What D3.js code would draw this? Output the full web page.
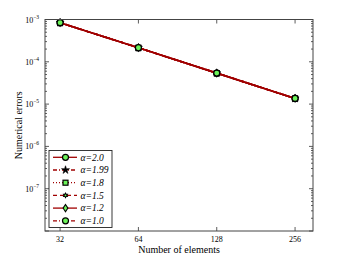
<!DOCTYPE html>
<html>
<head>
<meta charset="utf-8">
<script src="https://cdn.jsdelivr.net/npm/d3@7"></script>
<style>
  body { margin: 0; background: #fff; }
  svg { display: block; }
</style>
</head>
<body>
<svg width="346" height="261"></svg>
<script>
// data
const elements = [32, 64, 128, 256];
const alphas = ['2.0', '1.99', '1.8', '1.5', '1.2', '1.0'];
const err20 = [8.4e-4, 2.15e-4, 5.4e-5, 1.36e-5];
const err199 = [8.4e-4, 2.15e-4, 5.4e-5, 1.36e-5];
const err18 = [8.4e-4, 2.15e-4, 5.4e-5, 1.36e-5];
const err15 = [8.4e-4, 2.15e-4, 5.4e-5, 1.36e-5];
const err12 = [8.4e-4, 2.15e-4, 5.4e-5, 1.36e-5];
const err10 = [8.4e-4, 2.15e-4, 5.4e-5, 1.36e-5];
const yTickExps = [-3, -4, -5, -6, -7];

const seriesErrors = [err20, err199, err18, err15, err12, err10];
// line dash + marker per series
const styles = [
  { dash: null, marker: 'circle' },
  { dash: '4,2,1,2', marker: 'star' },
  { dash: '1,2', marker: 'square' },
  { dash: '4,3', marker: 'hexstar' },
  { dash: null, marker: 'diamond' },
  { dash: '4,2,1,2', marker: 'circle' }
];

const lineColor = '#a00000';
const markFill = '#6cf35a';
const serif = '"Liberation Serif"';

const svg = d3.select('svg');
const margin = { left: 45, right: 33, top: 19.5, bottom: 30 };
const W = 346, H = 261;
const x = d3.scaleLog().base(2).domain([28, 300]).range([margin.left, W - margin.right]);
const y = d3.scaleLog().domain([1e-8, 1e-3]).range([H - margin.bottom, margin.top]);

const x0 = margin.left, x1 = W - margin.right, y0 = H - margin.bottom, y1 = margin.top;

//ticks
const tickG = svg.append('g').attr('stroke', '#333').attr('stroke-width', 0.8);
elements.forEach(v => {
  tickG.append('line').attr('x1', x(v)).attr('x2', x(v)).attr('y1', y0).attr('y2', y0 - 4);
  tickG.append('line').attr('x1', x(v)).attr('x2', x(v)).attr('y1', y1).attr('y2', y1 + 4);
});
for (let e = -8; e <= -3; e++) {
  tickG.append('line').attr('x1', x0).attr('x2', x0 + 4).attr('y1', y(10 ** e)).attr('y2', y(10 ** e));
  tickG.append('line').attr('x1', x1).attr('x2', x1 - 4).attr('y1', y(10 ** e)).attr('y2', y(10 ** e));
  if (e < -3) {
    for (let m = 2; m <= 9; m++) {
      const yy = y(m * 10 ** e);
      tickG.append('line').attr('x1', x0).attr('x2', x0 + 2).attr('y1', yy).attr('y2', yy);
      tickG.append('line').attr('x1', x1).attr('x2', x1 - 2).attr('y1', yy).attr('y2', yy);
    }
  }
}

// tick labels
svg.selectAll('.xl').data(elements).enter().append('text')
  .style('font-family', serif)
  .attr('x', d => x(d)).attr('y', y0 + 11)
  .attr('text-anchor', 'middle').attr('font-size', 8)
  .text(d => d);

const yl = svg.selectAll('.yl').data(yTickExps).enter().append('text')
  .style('font-family', serif)
  .attr('x', x0 - 6).attr('y', d => y(10 ** d) + 3)
  .attr('text-anchor', 'end').attr('font-size', 8);
yl.append('tspan').text('10');
yl.append('tspan').attr('dy', -4).attr('font-size', 5.5).text(d => '\u2212' + (-d));

// axis labels
svg.append('text').style('font-family', serif).attr('x', (x0 + x1) / 2).attr('y', 253)
  .attr('text-anchor', 'middle').attr('font-size', 10).text('Number of elements');
svg.append('text').style('font-family', serif).attr('transform', `translate(22, ${(y0 + y1) / 2}) rotate(-90)`)
  .attr('text-anchor', 'middle').attr('font-size', 10).text('Numerical errors');

//marker drawing
const drawMarker = (g, type, cx, cy) => {
  if (type === 'circle') {
    g.append('circle').attr('cx', cx).attr('cy', cy).attr('r', 3)
      .attr('fill', markFill).attr('stroke', '#000').attr('stroke-width', 1.2);
  } else if (type === 'square') {
    g.append('rect').attr('x', cx - 2.5).attr('y', cy - 2.5).attr('width', 5).attr('height', 5)
      .attr('fill', markFill).attr('stroke', '#000').attr('stroke-width', 1.2);
  } else if (type === 'diamond') {
    g.append('path').attr('d', `M${cx},${cy - 3.6}L${cx + 2.4},${cy}L${cx},${cy + 3.6}L${cx - 2.4},${cy}Z`)
      .attr('fill', markFill).attr('stroke', '#000').attr('stroke-width', 1.1);
  } else if (type === 'star') {
    g.append('path').attr('d', d3.symbol(d3.symbolStar, 20)())
      .attr('transform', `translate(${cx},${cy})`)
      .attr('fill', '#000').attr('stroke', '#000').attr('stroke-width', 0.6);
  } else if (type === 'hexstar') {
    const pts = d3.range(12).map(i => {
      const r = i % 2 ? 1.8 : 3.3, a = i * Math.PI / 6 - Math.PI / 2;
      return [cx + r * Math.cos(a), cy + r * Math.sin(a)];
    });
    g.append('path').attr('d', 'M' + pts.join('L') + 'Z').attr('fill', '#000');
    g.append('circle').attr('cx', cx).attr('cy', cy).attr('r', 0.9).attr('fill', markFill);
  }
};

// series lines
const line = d3.line().x((d, i) => x(elements[i])).y(d => y(d));
const plotG = svg.append('g');
seriesErrors.forEach((errs, k) => {
  plotG.append('path').datum(errs).attr('d', line)
    .attr('fill', 'none').attr('stroke', lineColor).attr('stroke-width', 1.6)
    .attr('stroke-dasharray', styles[k].dash);
  errs.forEach((v, i) => drawMarker(plotG, styles[k].marker, x(elements[i]), y(v)));
});

// frame
svg.append('rect').attr('x', x0).attr('y', y1).attr('width', x1 - x0).attr('height', y0 - y1)
  .attr('fill', 'none').attr('stroke', '#444').attr('stroke-width', 1);

// legend
const lg = svg.append('g');
lg.append('rect').attr('x', 49).attr('y', 150.5).attr('width', 63).attr('height', 77)
  .attr('fill', '#fff').attr('stroke', '#222').attr('stroke-width', 0.9);
alphas.forEach((a, k) => {
  const ry = 157.3 + k * 12.7;
  lg.append('line').attr('x1', 53).attr('x2', 77).attr('y1', ry).attr('y2', ry)
    .attr('stroke', lineColor).attr('stroke-width', 1.3).attr('stroke-dasharray', styles[k].dash);
  drawMarker(lg, styles[k].marker, 65.5, ry);
  lg.append('text').style('font-family', serif).style('font-style', 'italic')
    .attr('x', 80.5).attr('y', ry + 3.3).attr('font-size', 9.5)
    .text('\u03b1=' + a);
});
</script>
</body>
</html>
